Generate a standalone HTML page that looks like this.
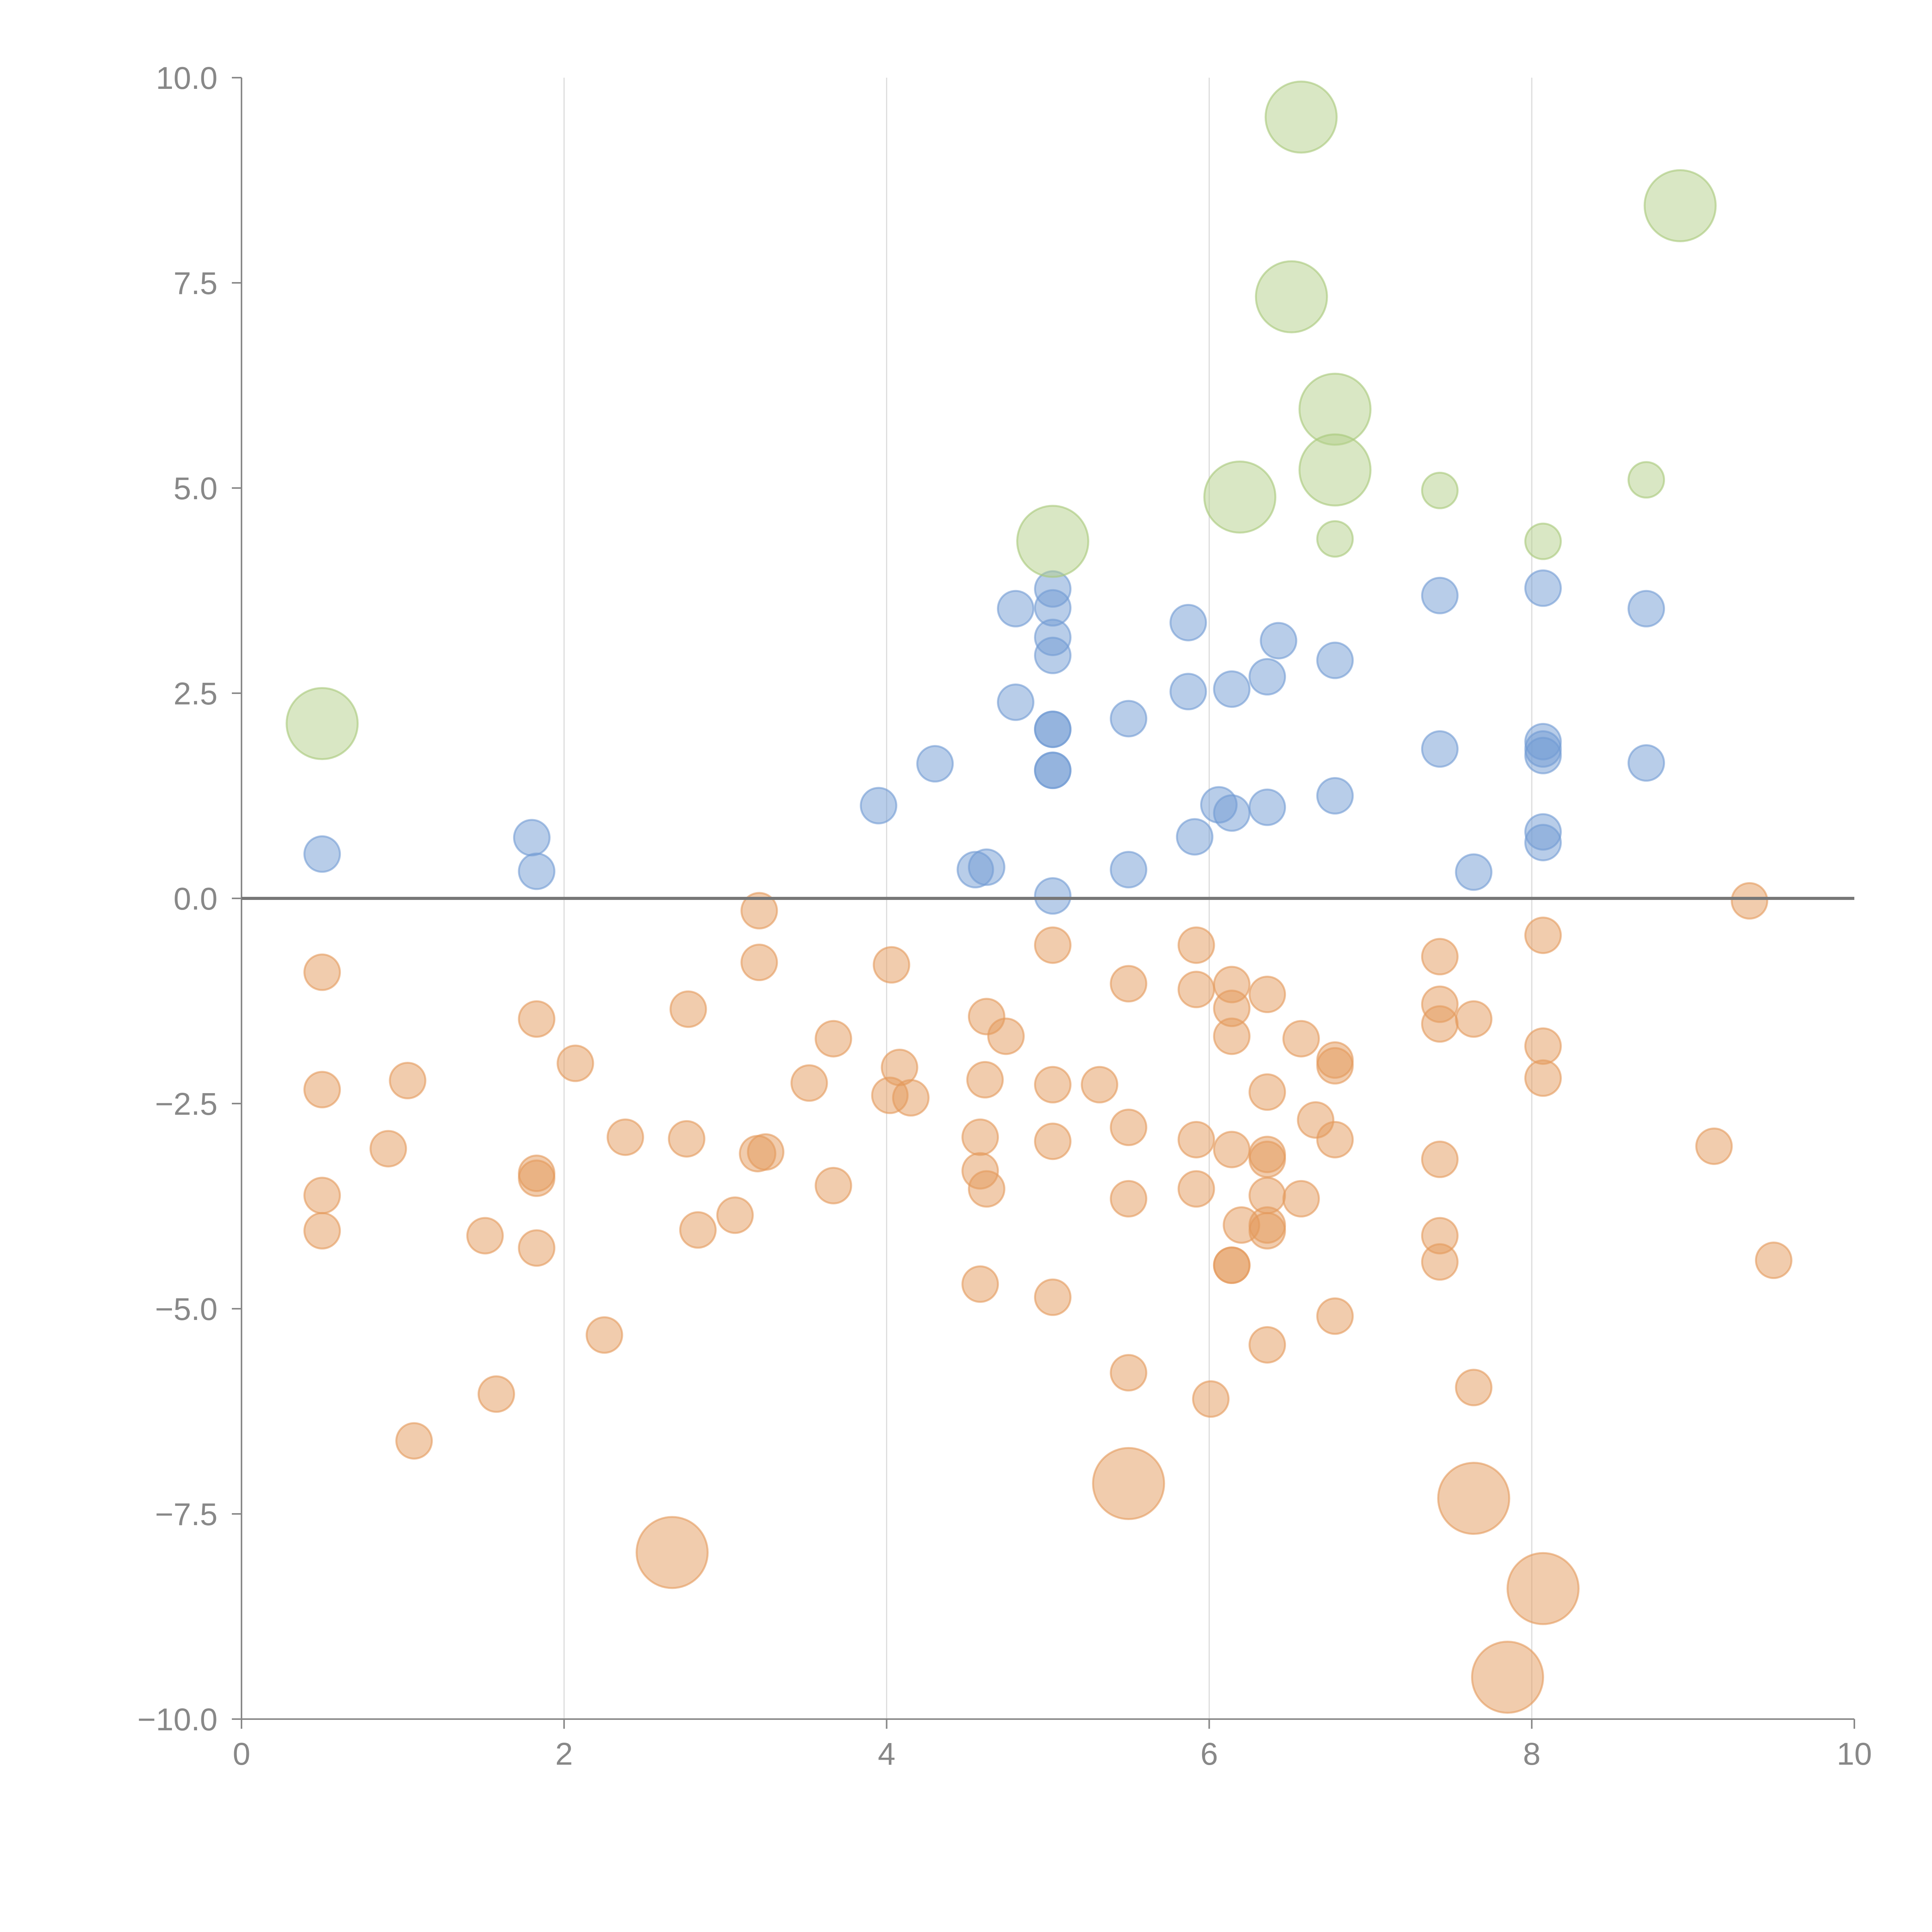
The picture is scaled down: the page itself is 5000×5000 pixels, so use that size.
<!DOCTYPE html>
<html><head><meta charset="utf-8"><style>
html,body{margin:0;padding:0;background:#fff;}
svg{display:block;font-family:"Liberation Sans",sans-serif;}
</style></head><body>
<svg id="chart" width="5000" height="5000" viewBox="0 0 5000 5000"></svg>
<script>
const xTicks=[0,2,4,6,8,10];
const yTicks=[10,7.5,5,2.5,0,-2.5,-5,-7.5,-10];
const yTickLabels=["10.0","7.5","5.0","2.5","0.0","−2.5","−5.0","−7.5","−10.0"];
const blueX=[0.5,1.8,1.83,3.95,4.3,4.55,4.62,4.8,4.8,5.03,5.03,5.03,5.03,5.03,5.03,5.03,5.03,5.03,5.5,5.5,5.87,5.87,5.91,6.06,6.14,6.14,6.36,6.36,6.43,6.78,6.78,7.43,7.43,7.64,8.07,8.07,8.07,8.07,8.07,8.07,8.71,8.71];
const blueY=[0.54,0.74,0.33,1.13,1.64,0.35,0.38,3.53,2.39,3.77,3.54,3.18,2.96,2.06,2.06,1.56,1.56,0.03,2.19,0.35,3.36,2.52,0.75,1.14,1.04,2.55,2.7,1.11,3.14,2.9,1.25,3.69,1.82,0.32,3.78,1.91,1.82,1.74,0.81,0.68,3.53,1.65];
const greenX=[0.5,5.03,6.19,6.51,6.57,6.78,6.78,6.78,7.43,8.07,8.71,8.92];
const greenY=[2.13,4.35,4.89,7.33,9.52,5.96,5.22,4.38,4.97,4.35,5.1,8.44];
const greenSize=[2,2,2,2,2,2,2,1,1,1,1,2];
const orangeX=[3.21,9.35,0.5,3.21,4.03,5.03,5.92,7.43,8.07,5.5,5.92,6.14,6.36,6.14,1.83,2.77,4.62,7.43,7.43,7.64,3.67,4.74,6.14,6.57,8.07,6.78,6.78,2.07,4.08,0.5,1.03,3.52,4.61,5.03,5.32,8.07,4.02,4.15,6.36,6.66,2.38,2.76,4.58,5.03,5.5,5.92,6.78,0.91,3.2,3.25,6.14,6.36,6.36,9.13,7.43,1.83,1.83,4.58,3.67,4.62,5.92,0.5,5.5,6.36,6.57,3.06,2.83,0.5,1.51,6.2,6.36,6.36,7.43,1.83,7.43,9.5,6.14,6.14,4.58,5.03,6.78,2.25,6.36,5.5,7.64,1.58,6.01,1.07,2.67,5.5,7.64,8.07,7.85];
const orangeY=[-0.15,-0.03,-0.9,-0.78,-0.81,-0.57,-0.57,-0.71,-0.45,-1.04,-1.11,-1.05,-1.17,-1.34,-1.47,-1.35,-1.44,-1.29,-1.53,-1.47,-1.71,-1.68,-1.68,-1.71,-1.8,-1.97,-2.04,-2.01,-2.06,-2.33,-2.22,-2.25,-2.21,-2.27,-2.27,-2.19,-2.4,-2.43,-2.36,-2.7,-2.91,-2.93,-2.91,-2.96,-2.79,-2.94,-2.94,-3.05,-3.11,-3.09,-3.06,-3.12,-3.18,-3.02,-3.18,-3.35,-3.41,-3.32,-3.5,-3.54,-3.54,-3.62,-3.66,-3.62,-3.66,-3.86,-4.04,-4.05,-4.11,-3.98,-3.98,-4.05,-4.11,-4.26,-4.43,-4.41,-4.47,-4.47,-4.7,-4.86,-5.09,-5.32,-5.44,-5.78,-5.96,-6.04,-6.1,-6.61,-7.97,-7.13,-7.31,-8.41,-9.49];
const orangeSize=orangeX.map((_,i)=>i>=orangeX.length-5?2:1);

const NS="http://www.w3.org/2000/svg";
const svg=document.getElementById('chart');
const X0=625,X1=4799,Y0=4449,Y1=201;
const xs=v=>X0+(v-0)/(10-0)*(X1-X0);
const ys=v=>Y0-(v+10)/20*(Y0-Y1);
const rs=s=>s===2?92:46;
function mk(t,a){const e=document.createElementNS(NS,t);for(const k in a)e.setAttribute(k,a[k]);svg.appendChild(e);return e;}

// gridlines
xTicks.slice(1,5).forEach(t=>{
  const g=mk('line',{x1:xs(t),x2:xs(t),y1:Y1,y2:Y0,stroke:'#dcdcdc','stroke-width':3});
  
  
});
// axes
const ya=mk('line',{x1:X0,x2:X0,y1:Y1,y2:Y0,stroke:'#888','stroke-width':4});


const xa=mk('line',{x1:X0,x2:X1,y1:Y0,y2:Y0,stroke:'#888','stroke-width':4});


xTicks.forEach(t=>{
  const l=mk('line',{x1:xs(t),x2:xs(t),y1:Y0,y2:Y0+25,stroke:'#888','stroke-width':4});
  
  
  const tx=mk('text',{x:xs(t),y:Y0+118,'text-anchor':'middle','font-size':82,fill:'#888'});
  tx.textContent=String(t);
  
  
});
yTicks.forEach((t,i)=>{
  const l=mk('line',{x1:X0-25,x2:X0,y1:ys(t),y2:ys(t),stroke:'#888','stroke-width':4});
  
  
  const tx=mk('text',{x:X0-62,y:ys(t)+29,'text-anchor':'end','font-size':82,fill:'#888'});
  tx.textContent=yTickLabels[i];
  
  
});
function series(xa,ya,sz,fill,stroke,name){
  xa.forEach((x,i)=>{
    const c=mk('circle',{cx:xs(x),cy:ys(ya[i]),r:rs(sz?sz[i]:1),fill:fill,'fill-opacity':0.5,stroke:stroke,'stroke-opacity':0.6,'stroke-width':5});
    
    
  });
}
series(orangeX,orangeY,orangeSize,'#e49a5c','#e49a5c','orange-point');
series(blueX,blueY,null,'#729bd3','#729bd3','blue-point');
series(greenX,greenY,greenSize,'#b3d08a','#a6c878','green-point');
// zero line
const z=mk('line',{x1:X0,x2:X1,y1:ys(0),y2:ys(0),stroke:'#777','stroke-width':8});


</script>
</body></html>
